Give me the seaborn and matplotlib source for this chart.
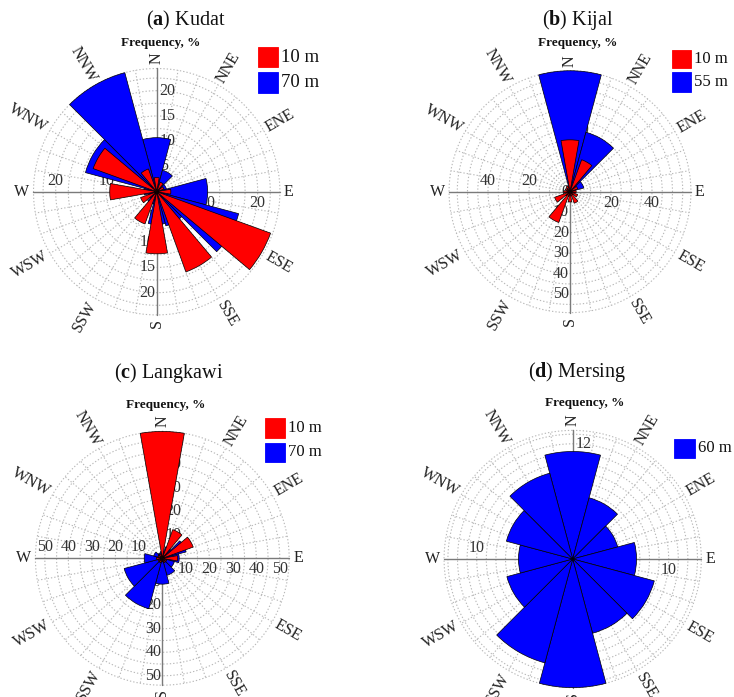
import numpy as np
import matplotlib
matplotlib.use("Agg")
import matplotlib.pyplot as plt
import seaborn as sns
from matplotlib.patches import Rectangle

sns.set_theme(style="white")
plt.rcParams['font.family'] = ['Liberation Serif', 'DejaVu Serif']
plt.rcParams['mathtext.fontset'] = 'custom'
plt.rcParams['mathtext.rm'] = 'Liberation Serif'
plt.rcParams['mathtext.bf'] = 'Liberation Serif:bold'

# ---- data: wind frequency (%) per 30-degree sector ----
directions = ["N", "NNE", "ENE", "E", "ESE", "SSE", "S", "SSW", "WSW", "W", "WNW", "NNW"]
bearings = [0, 30, 60, 90, 120, 150, 180, 210, 240, 270, 300, 330]

kudat_10m = [2.8, 2.0, 1.5, 2.8, 24.0, 16.9, 12.3, 6.8, 3.4, 9.3, 13.4, 4.8]
kudat_70m = [10.7, 4.4, 2.0, 10.1, 16.8, 7.0, 6.5, 2.5, 1.8, 2.5, 14.6, 24.4]

kijal_10m = [25.3, 16.6, 4.0, 3.0, 4.0, 6.0, 5.0, 16.0, 8.0, 3.0, 2.5, 3.0]
kijal_55m = [59.0, 30.0, 7.0, 2.5, 2.0, 2.0, 2.0, 2.5, 2.0, 2.0, 1.5, 2.0]

langkawi_10m = [54.0, 13.0, 14.0, 6.5, 2.0, 2.0, 1.5, 2.0, 2.0, 2.5, 2.0, 2.0]
langkawi_70m = [3.0, 5.0, 10.5, 7.2, 5.3, 7.5, 11.0, 22.2, 16.8, 7.7, 3.8, 2.5]

mersing_60m = [11.2, 6.6, 4.85, 6.65, 8.8, 8.0, 13.4, 11.2, 7.1, 5.65, 7.15, 9.25]

RED = "#ff0000"
BLUE = "#0000ff"

W, H = 734, 697
fig = plt.figure(figsize=(W / 100, H / 100), dpi=100)


def fx(x):
    return x / W


def fy(y):
    return 1 - y / H


R_AX = 135  # half-size of each polar axes box in pixels


def rose(center, ppu, ring_step, series, ticks, title, legend, leg_font):
    cx, cy = center
    ax = fig.add_axes([fx(cx - R_AX), fy(cy + R_AX), 2 * R_AX / W, 2 * R_AX / H],
                      projection="polar")
    ax.set_theta_zero_location("N")
    ax.set_theta_direction(-1)
    ax.set_ylim(0, R_AX / ppu)
    ax.grid(False)
    ax.set_xticks([])
    ax.set_yticks([])
    ax.spines["polar"].set_visible(False)
    ax.patch.set_alpha(0)

    rmax = max(max(v) for _, v, _, _ in series)
    # dotted rings and spokes
    t = np.linspace(0, 2 * np.pi, 400)
    rings = list(np.arange(ring_step, rmax - 0.3 * ring_step, ring_step)) + [rmax]
    for r in rings:
        ax.plot(t, np.full_like(t, r), ls=(0, (1.2, 1.8)), color="#b8b8b8", lw=0.8, zorder=1)
    for a in range(0, 360, 10):
        if a % 90 == 0:
            continue
        ax.plot([np.deg2rad(a)] * 2, [ring_step, rmax], ls=(0, (1.2, 1.8)),
                color="#b8b8b8", lw=0.8, zorder=1)
    # main cross
    for a in (0, 90, 180, 270):
        ax.plot([np.deg2rad(a)] * 2, [0, rmax], color="#7a7a7a", lw=1.0, zorder=2)

    # tick labels (drawn beneath the bars)
    def axpt(dx, dy):
        return (0.5 + dx / (2 * R_AX), 0.5 + dy / (2 * R_AX))

    for side, vals in ticks.items():
        for v in vals:
            d = v * ppu
            if side == "N":
                pos, ha, va = axpt(3, d), "left", "center"
            elif side == "S":
                pos, ha, va = axpt(-1, -d), "right", "center"
            elif side == "E":
                pos, ha, va = axpt(d, -3), "center", "top"
            else:
                pos, ha, va = axpt(-d, 3), "center", "bottom"
            ax.text(*pos, f"{v:g}", transform=ax.transAxes, ha=ha, va=va,
                    fontsize=11.5, color="#333333", zorder=2.5, clip_on=False)

    # bars
    for label, vals, color, width in series:
        ax.bar(np.deg2rad(bearings), vals, width=np.deg2rad(width), color=color,
               edgecolor="black", linewidth=0.5, zorder=3 if width == 30 else 4)

    # direction labels
    r_lab = rmax * ppu + 4
    for name, b in zip(directions, bearings):
        phi = 90 - b
        rad = np.deg2rad(phi)
        pos = axpt(r_lab * np.cos(rad), r_lab * np.sin(rad))
        if b < 180:
            rot, ha = phi, "left"
        else:
            rot, ha = phi + 180, "right"
        ax.text(*pos, name, transform=ax.transAxes, rotation=rot, rotation_mode="anchor",
                ha=ha, va="center", fontsize=11.5, color="#222222", clip_on=False, zorder=5)

    # titles
    tx, ty = title[1]
    fig.text(fx(tx), fy(ty), title[0], ha="center", va="center", fontsize=14.5, color="#111111")
    fqx, fqy = title[2]
    fig.text(fx(fqx), fy(fqy), "Frequency, %", ha="center", va="center",
             fontsize=9.5, fontweight="bold", color="#111111")

    # legend
    for (label, color), (x0, y0, x1, y1) in legend:
        fig.add_artist(Rectangle((fx(x0), fy(y1)), fx(x1 - x0), (y1 - y0) / H,
                                 transform=fig.transFigure, facecolor=color,
                                 edgecolor=color, linewidth=0.6, alpha=1.0))
        fig.text(fx(x1 + 3), fy((y0 + y1) / 2), label, ha="left", va="center",
                 fontsize=leg_font, color="#111111")
    return ax


rose((156.7, 191.7), 5.05, 2.5,
     [("70 m", kudat_70m, BLUE, 30), ("10 m", kudat_10m, RED, 20)],
     {"N": [5, 10, 15, 20], "S": [5, 10, 15, 20], "E": [10, 20], "W": [10, 20]},
     (r"($\mathbf{a}$) Kudat", (186, 20), (161, 43.3)),
     [(("10 m", RED), (258, 47, 278, 67)), (("70 m", BLUE), (258, 72, 278, 93))], 13.5)

rose((570, 191.7), 2.05, 5,
     [("55 m", kijal_55m, BLUE, 30), ("10 m", kijal_10m, RED, 20)],
     {"N": [10, 20, 30, 40, 50], "S": [0, 10, 20, 30, 40, 50], "E": [20, 40], "W": [20, 40]},
     (r"($\mathbf{b}$) Kijal", (578, 20), (578, 43.3)),
     [(("10 m", RED), (672, 50, 691, 68)), (("55 m", BLUE), (672, 72, 691, 92))], 12)

rose((162.3, 558.3), 2.35, 5,
     [("70 m", langkawi_70m, BLUE, 30), ("10 m", langkawi_10m, RED, 20)],
     {"N": [10, 20, 30, 40, 50], "S": [10, 20, 30, 40, 50],
      "E": [10, 20, 30, 40, 50], "W": [10, 20, 30, 40, 50]},
     (r"($\mathbf{c}$) Langkawi", (169, 373), (165.7, 405)),
     [(("10 m", RED), (265, 418, 285, 438)), (("70 m", BLUE), (265, 443, 285, 462))], 12)

rose((572.7, 559), 9.6, 1,
     [("60 m", mersing_60m, BLUE, 30)],
     {"N": [12], "E": [10], "W": [10]},
     (r"($\mathbf{d}$) Mersing", (577.5, 372), (584.7, 402.7)),
     [(("60 m", BLUE), (674, 439, 695, 458))], 12)

fig.savefig("out.png", dpi=100)
